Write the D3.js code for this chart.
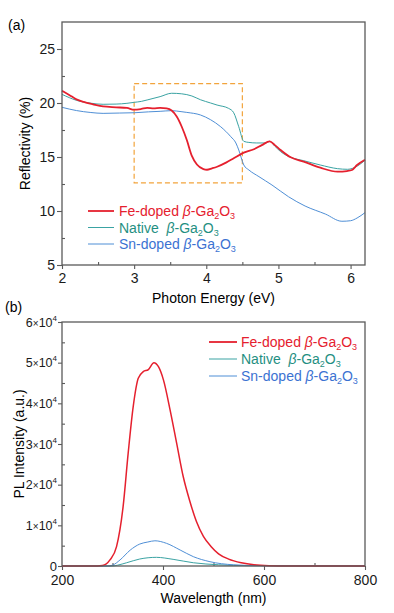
<!DOCTYPE html>
<html>
<head>
<meta charset="utf-8">
<script src="https://cdn.jsdelivr.net/npm/d3@7"></script>
<style>
  body { margin: 0; background: #fff; }
  text { font-family: "Liberation Sans", Arial, sans-serif; }
</style>
</head>
<body>
<div class="canva"></div>
<script>
const width = 394
const height = 613

// ---- panel (a) reflectivity data ----
const feEnergy = [2.0, 2.1, 2.2, 2.3, 2.43, 2.57, 2.75, 2.9, 3.0, 3.1, 3.18, 3.27, 3.36, 3.45, 3.52, 3.59, 3.66, 3.73, 3.8, 3.87, 3.96, 4.01, 4.08, 4.15, 4.28, 4.38, 4.52, 4.66, 4.77, 4.88, 4.95, 5.03, 5.17, 5.35, 5.58, 5.82, 5.95, 6.02, 6.09, 6.2]
const feRefl = [21.14, 20.75, 20.34, 20.1, 19.88, 19.68, 19.6, 19.54, 19.38, 19.45, 19.55, 19.5, 19.55, 19.5, 19.3, 18.75, 17.8, 16.57, 15.1, 14.3, 13.88, 13.82, 13.95, 14.1, 14.5, 14.88, 15.4, 15.72, 16.1, 16.45, 16.1, 15.65, 14.97, 14.57, 14.01, 13.64, 13.7, 13.8, 14.26, 14.75]

const nativeEnergy = [2.0, 2.2, 2.4, 2.57, 2.75, 2.9, 3.0, 3.1, 3.18, 3.36, 3.52, 3.66, 3.8, 3.92, 4.06, 4.15, 4.31, 4.38, 4.45, 4.52, 4.59, 4.7, 4.82, 4.88, 4.95, 5.03, 5.17, 5.35, 5.58, 5.82, 5.96, 6.09, 6.2]
const nativeRefl = [20.8, 20.25, 19.98, 19.88, 19.9, 19.97, 20.06, 20.15, 20.28, 20.59, 20.9, 20.85, 20.65, 20.3, 20.0, 19.81, 19.5, 19.1, 17.8, 16.45, 16.35, 16.3, 16.3, 16.45, 16.0, 15.5, 14.97, 14.66, 14.26, 13.92, 13.86, 14.15, 14.7]

const snEnergy = [2.0, 2.2, 2.4, 2.57, 2.8, 3.01, 3.2, 3.36, 3.52, 3.65, 3.73, 3.92, 4.06, 4.2, 4.34, 4.41, 4.45, 4.52, 4.59, 4.73, 4.91, 5.14, 5.37, 5.65, 5.88, 6.0, 6.09, 6.2]
const snRefl = [19.6, 19.3, 19.12, 19.04, 19.07, 19.1, 19.18, 19.23, 19.29, 19.2, 19.13, 18.89, 18.45, 17.8, 16.88, 16.3, 15.65, 14.26, 13.8, 13.18, 12.41, 11.32, 10.46, 9.72, 9.05, 9.1, 9.35, 9.85]

// ---- panel (b) PL data ----
const feWave = [200, 270, 280, 295, 308, 321, 331, 341, 351, 361, 371, 382, 391, 401, 414, 427, 440, 453, 466, 480, 495, 510, 530, 555, 580, 610, 650, 700, 800]
const fePL = [0, 0, 100, 1500, 4750, 14600, 27700, 39200, 46150, 47800, 48300, 50000, 49000, 45700, 38400, 30200, 22000, 16000, 11000, 7300, 4800, 3000, 1700, 800, 300, 80, 10, 0, 0]

const snWave = [200, 290, 300, 315, 335, 354, 370, 384, 407, 434, 460, 493, 539, 600, 800]
const snPL = [0, 0, 200, 1500, 3900, 5400, 5900, 6200, 5570, 3930, 2300, 1060, 300, 60, 0]

const nativeWave = [200, 300, 310, 328, 354, 387, 420, 460, 510, 570, 800]
const nativePL = [0, 0, 200, 800, 1720, 2130, 1640, 800, 300, 80, 0]

const legendNames = ["Fe-doped ", "Native  ", "Sn-doped "]
const lineColors = ["#e5202e", "#3aa3a3", "#4f8fd6"]
const textColors = ["#e5202e", "#1f8f82", "#3b72d2"]

const svg = d3.select(".canva").append("svg")
  .attr("width", width).attr("height", height)
svg.append("rect").attr("width", width).attr("height", height).attr("fill", "#fff")

const axisColor = "#5a5a5a"

function frame(g, w, h) {
  g.append("rect").attr("width", w).attr("height", h)
    .attr("fill", "none").attr("stroke", axisColor).attr("stroke-width", 1.3)
}

function styleAxis(sel) {
  sel.select(".domain").remove()
  sel.selectAll(".tick line").attr("stroke", axisColor).attr("stroke-width", 1.1)
  sel.selectAll(".tick text").attr("fill", "#1a1a1a")
}

function legendLabel(g, i, x, y) {
  const t = g.append("text").attr("x", x).attr("y", y)
    .attr("fill", textColors[i]).attr("font-size", 14)
    .attr("xml:space", "preserve")
  t.append("tspan").text(legendNames[i])
  t.append("tspan").attr("font-style", "italic").text("β")
  t.append("tspan").text("-Ga")
  t.append("tspan").attr("font-size", 9).attr("dy", 3).text("2")
  t.append("tspan").attr("dy", -3).text("O")
  t.append("tspan").attr("font-size", 9).attr("dy", 3).text("3")
}

// ================= panel (a) =================
const a = { left: 62, top: 22, w: 303, h: 243 }
const ga = svg.append("g").attr("transform", `translate(${a.left},${a.top})`)
const xa = d3.scaleLinear().domain([2, 6.2]).range([0, a.w])
const ya = d3.scaleLinear().domain([5, 27.5]).range([a.h, 0])

const xaMajor = ga.append("g").attr("transform", `translate(0,${a.h})`)
  .call(d3.axisBottom(xa).tickValues([2, 3, 4, 5, 6]).tickSize(4).tickPadding(4).tickFormat(d3.format("d")))
xaMajor.call(styleAxis).selectAll("text").attr("font-size", 14)
ga.append("g").attr("transform", `translate(0,${a.h})`)
  .call(d3.axisBottom(xa).tickValues([2.5, 3.5, 4.5, 5.5]).tickSize(-3).tickFormat(""))
  .call(styleAxis)

const yaMajor = ga.append("g")
  .call(d3.axisLeft(ya).tickValues([5, 10, 15, 20, 25]).tickSize(5).tickPadding(2))
yaMajor.call(styleAxis).selectAll("text").attr("font-size", 14)
ga.append("g")
  .call(d3.axisLeft(ya).tickValues([7.5, 12.5, 17.5, 22.5]).tickSize(-3).tickFormat(""))
  .call(styleAxis)

// dashed highlight box
ga.append("rect")
  .attr("x", xa(3)).attr("y", ya(21.8))
  .attr("width", xa(4.5) - xa(3)).attr("height", ya(12.6) - ya(21.8))
  .attr("fill", "none").attr("stroke", "#f2a43c").attr("stroke-width", 1.2)
  .attr("stroke-dasharray", "5,3")

const lineA = d3.line().x(d => xa(d[0])).y(d => ya(d[1])).curve(d3.curveMonotoneX)
const seriesA = [
  { x: snEnergy, y: snRefl, c: 2, w: 1 },
  { x: nativeEnergy, y: nativeRefl, c: 1, w: 1 },
  { x: feEnergy, y: feRefl, c: 0, w: 1.8 }
]
seriesA.forEach(s => {
  ga.append("path").datum(d3.zip(s.x, s.y))
    .attr("d", lineA).attr("fill", "none")
    .attr("stroke", lineColors[s.c]).attr("stroke-width", s.w)
})
frame(ga, a.w, a.h)

// legend (a)
legendNames.forEach((n, i) => {
  const y = 211 + i * 16.5
  svg.append("line").attr("x1", 88).attr("x2", 114).attr("y1", y).attr("y2", y)
    .attr("stroke", lineColors[i]).attr("stroke-width", i == 0 ? 1.8 : 1)
  legendLabel(svg, i, 119, y + 5)
})

svg.append("text").attr("x", 8).attr("y", 30).attr("font-size", 14).text("(a)")
svg.append("text").attr("transform", `translate(30,${a.top + a.h / 2}) rotate(-90)`)
  .attr("text-anchor", "middle").attr("font-size", 14).text("Reflectivity (%)")
svg.append("text").attr("x", a.left + a.w / 2).attr("y", 303)
  .attr("text-anchor", "middle").attr("font-size", 14).text("Photon Energy (eV)")

// ================= panel (b) =================
const b = { left: 62, top: 322, w: 303, h: 244 }
const gb = svg.append("g").attr("transform", `translate(${b.left},${b.top})`)
const xb = d3.scaleLinear().domain([200, 800]).range([0, b.w])
const yb = d3.scaleLinear().domain([0, 60000]).range([b.h, 0])

const xbMajor = gb.append("g").attr("transform", `translate(0,${b.h})`)
  .call(d3.axisBottom(xb).tickValues([200, 400, 600, 800]).tickSize(4).tickPadding(5))
xbMajor.call(styleAxis).selectAll("text").attr("font-size", 14)
gb.append("g").attr("transform", `translate(0,${b.h})`)
  .call(d3.axisBottom(xb).tickValues([300, 500, 700]).tickSize(-3).tickFormat(""))
  .call(styleAxis)

const ybMajor = gb.append("g")
  .call(d3.axisLeft(yb).tickValues([0, 10000, 20000, 30000, 40000, 50000, 60000]).tickSize(4).tickPadding(1).tickFormat(""))
ybMajor.call(styleAxis)
ybMajor.selectAll(".tick text").each(function (d) {
  const t = d3.select(this).attr("font-size", 12.5)
  if (d === 0) { t.attr("font-size", 13).text("0"); return }
  t.append("tspan").text(d / 10000)
  t.append("tspan").attr("font-size", 10).text("×")
  t.append("tspan").text("10")
  t.append("tspan").attr("font-size", 8).attr("dy", -6).text("4")
})
gb.append("g")
  .call(d3.axisLeft(yb).tickValues([5000, 15000, 25000, 35000, 45000, 55000]).tickSize(-3).tickFormat(""))
  .call(styleAxis)

const lineB = d3.line().x(d => xb(d[0])).y(d => yb(d[1])).curve(d3.curveMonotoneX)
const seriesB = [
  { x: nativeWave, y: nativePL, c: 1, w: 1 },
  { x: snWave, y: snPL, c: 2, w: 1 },
  { x: feWave, y: fePL, c: 0, w: 1.5 }
]
seriesB.forEach(s => {
  gb.append("path").datum(d3.zip(s.x, s.y))
    .attr("d", lineB).attr("fill", "none")
    .attr("stroke", lineColors[s.c]).attr("stroke-width", s.w)
})
frame(gb, b.w, b.h)

// legend (b)
legendNames.forEach((n, i) => {
  const y = 342 + i * 17
  svg.append("line").attr("x1", 209).attr("x2", 237).attr("y1", y).attr("y2", y)
    .attr("stroke", lineColors[i]).attr("stroke-width", i == 0 ? 1.8 : 1)
  legendLabel(svg, i, 241, y + 5)
})

svg.append("text").attr("x", 5).attr("y", 312).attr("font-size", 14).text("(b)")
svg.append("text").attr("transform", `translate(24,${b.top + b.h / 2}) rotate(-90)`)
  .attr("text-anchor", "middle").attr("font-size", 14).text("PL Intensity (a.u.)")
svg.append("text").attr("x", b.left + b.w / 2).attr("y", 603)
  .attr("text-anchor", "middle").attr("font-size", 14).text("Wavelength (nm)")
</script>
</body>
</html>
